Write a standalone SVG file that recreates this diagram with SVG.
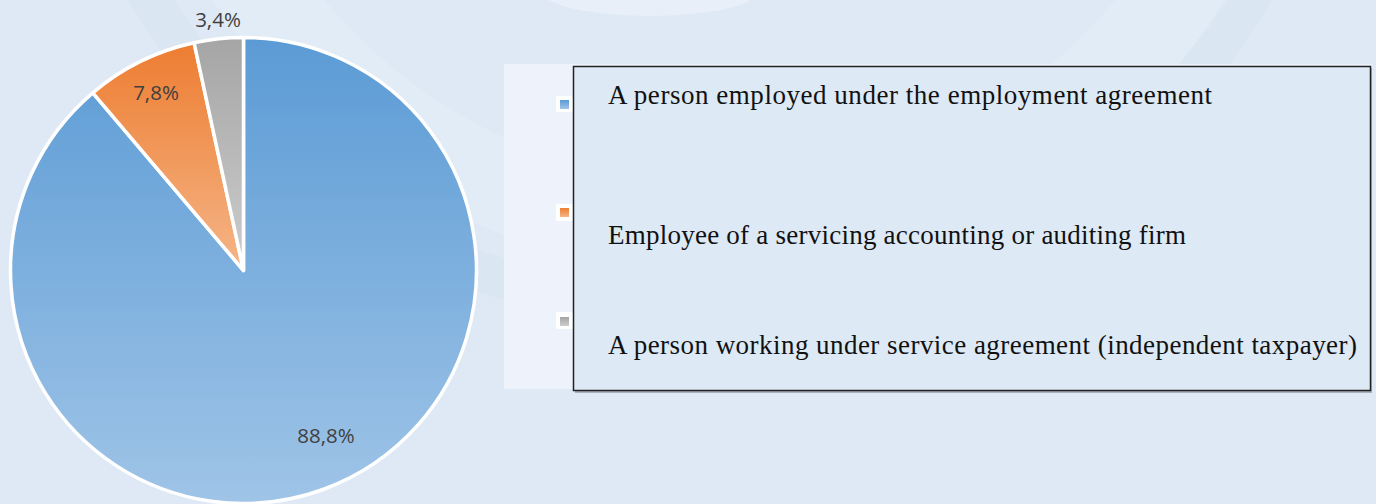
<svg xmlns="http://www.w3.org/2000/svg" width="1376" height="504" viewBox="0 0 1376 504">
  <defs>
    <linearGradient id="gBlue" x1="0" y1="0" x2="0" y2="1">
      <stop offset="0" stop-color="#5b9bd5"/>
      <stop offset="1" stop-color="#9fc4e7"/>
    </linearGradient>
    <linearGradient id="gOrange" x1="0" y1="0" x2="0" y2="1">
      <stop offset="0" stop-color="#ed7d31"/>
      <stop offset="1" stop-color="#f5b587"/>
    </linearGradient>
    <linearGradient id="gGray" x1="0" y1="0" x2="0" y2="1">
      <stop offset="0" stop-color="#a5a5a5"/>
      <stop offset="1" stop-color="#cdcdcd"/>
    </linearGradient>
    <style>
      .slice { stroke: #ffffff; stroke-width: 3.5; stroke-linejoin: round; }
      .pct { font-family: "Open Sans", "Liberation Sans", sans-serif; font-size: 20.5px; fill: #404040; text-anchor: middle; }
      .leg { font-family: "Liberation Serif", "DejaVu Serif", serif; font-size: 27px; fill: #111111; }
      .mbg { fill: #ffffff; }
    </style>
  </defs>

  <!-- background -->
  <rect x="0" y="0" width="1376" height="504" fill="#dee9f5"/>
  <circle cx="720" cy="-330" r="560" fill="none" stroke="#ffffff" stroke-opacity="0.14" stroke-width="90"/>
  <circle cx="700" cy="-330" r="640" fill="none" stroke="#c9d2e0" stroke-opacity="0.10" stroke-width="40"/>
  <ellipse cx="650" cy="-10" rx="110" ry="26" fill="#ffffff" fill-opacity="0.3"/>

  <!-- pie -->
  <g id="pie">
    <g id="slice-employed">
      <path class="slice" fill="url(#gBlue)" d="M243.5,270.5 L243.5,37.5 A233,233 0 1 1 92.8,92.8 Z"/>
    </g>
    <g id="slice-firm">
      <path class="slice" fill="url(#gOrange)" d="M243.5,270.5 L92.8,92.8 A233,233 0 0 1 194.1,42.8 Z"/>
    </g>
    <g id="slice-service">
      <path class="slice" fill="url(#gGray)" d="M243.5,270.5 L194.1,42.8 A233,233 0 0 1 243.5,37.5 Z"/>
    </g>
    <text class="pct" x="218" y="27">3,4%</text>
    <text class="pct" x="156" y="100">7,8%</text>
    <text class="pct" x="326" y="443">88,8%</text>
  </g>

  <!-- legend -->
  <g id="legend">
    <rect x="504" y="64" width="868" height="325" fill="#eef3fb"/>
    <rect x="556" y="96" width="17" height="16" rx="2" class="mbg"/>
    <rect x="556" y="204" width="17" height="17" rx="2" class="mbg"/>
    <rect x="556" y="312" width="17" height="17" rx="2" class="mbg"/>
    <rect x="560" y="100" width="9" height="9" fill="url(#gBlue)"/>
    <rect x="560" y="208" width="9" height="9" fill="url(#gOrange)"/>
    <rect x="560" y="317" width="9" height="9" fill="url(#gGray)"/>
    <rect x="575" y="68" width="797" height="325" fill="#7f8a99" fill-opacity="0.6"/>
    <rect x="573.5" y="66.5" width="797" height="324" fill="#dde9f5" stroke="#222222" stroke-width="1.5"/>
    <g id="leg-employed">
      <text class="leg" x="608" y="104" textLength="604" lengthAdjust="spacing">A person employed under the employment agreement</text>
    </g>
    <g id="leg-firm">
      <text class="leg" x="608" y="244" textLength="578" lengthAdjust="spacing">Employee of a servicing accounting or auditing firm</text>
    </g>
    <g id="leg-service">
      <text class="leg" x="608" y="354" textLength="749" lengthAdjust="spacing">A person working under service agreement (independent taxpayer)</text>
    </g>
  </g>
  <g id="connectors"/>
</svg>
